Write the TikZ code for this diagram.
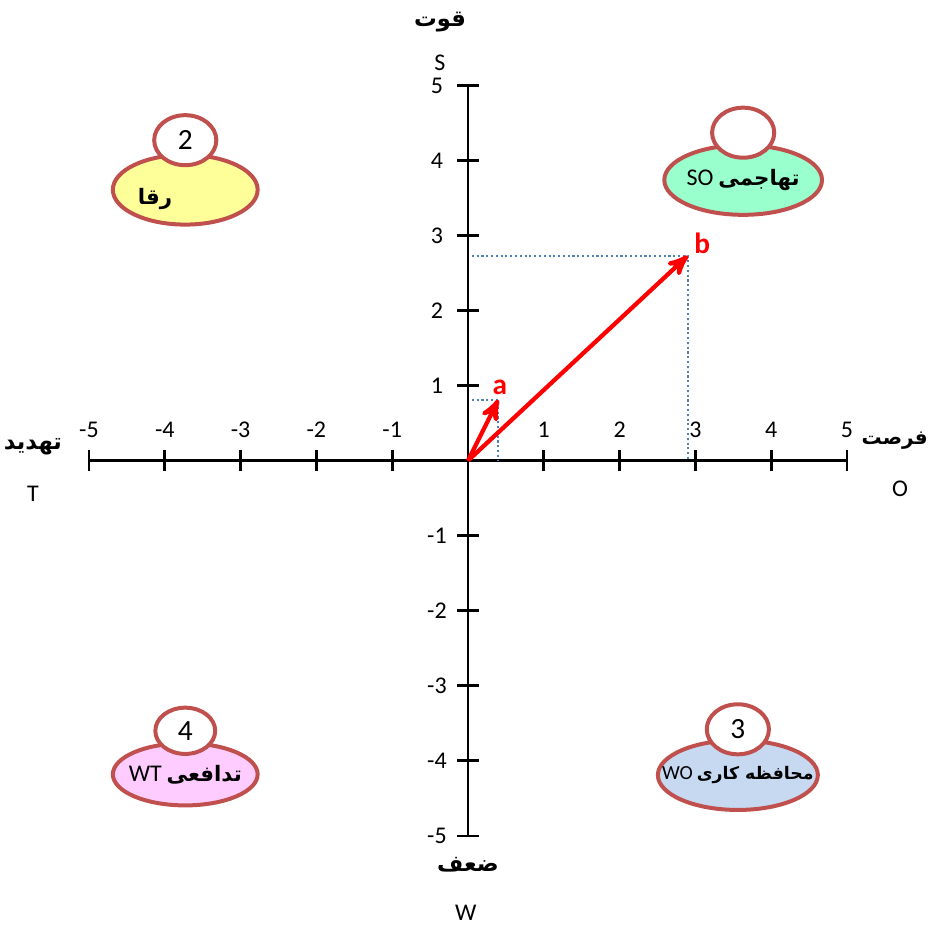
\documentclass[tikz,border=0pt]{standalone}
\usepackage{fontspec}
\setmainfont{Carlito}
\newfontfamily\farsi[Script=Arabic]{DejaVu Sans}
\TeXXeTstate=1
\usepackage{tikz}
\usetikzlibrary{positioning, arrows, calc, shapes.geometric}
\definecolor{rim}{HTML}{C0504D}
\definecolor{guideblue}{HTML}{4F81BD}
\definecolor{zoneyellow}{HTML}{FFFF99}
\definecolor{zonemint}{HTML}{99FFCC}
\definecolor{zonepink}{HTML}{FFCCFF}
\definecolor{zoneblue}{HTML}{C6D9F1}
\newcommand{\fatext}[1]{{\farsi\bfseries\beginR #1\endR}}
\tikzset{
    zone/.style={
        ellipse,
        draw=rim,
        line width=1.5pt,
        inner sep=0pt
    },
    zonetext/.style={
        inner sep=0pt,
        font=\fontsize{8}{10}\selectfont
    },
    badge/.style={
        ellipse,
        draw=rim,
        fill=white,
        line width=1.5pt,
        inner sep=0pt,
        minimum width=0.82cm,
        minimum height=0.66cm,
        font=\fontsize{11}{13}\selectfont
    },
    axis/.style={
        line width=1pt
    },
    vec/.style={
        ->,
        >=stealth',
        line width=1.6pt,
        red
    },
    guide/.style={
        densely dotted,
        line width=0.8pt,
        guideblue
    },
    ticklabel/.style={
        font=\fontsize{9}{11}\selectfont,
        inner sep=0pt
    },
    heading/.style={
        font=\fontsize{8.5}{10}\selectfont,
        inner sep=0pt
    }
}

\begin{document}
\begin{tikzpicture}[x=1cm, y=0.99cm]
    \useasboundingbox (-6.174,-6.178) rectangle (6.108,6.138);
    % axes
    \coordinate (O) at (0,0);
    \coordinate (xmin) at (-5,0);
    \coordinate (xmax) at (5,0);
    \coordinate (ymin) at (0,-5);
    \coordinate (ymax) at (0,5);
    \draw[axis] (xmin) -- (xmax);
    \draw[axis] (ymin) -- (ymax);
    \foreach \k in {-5,-4,-3,-2,-1,1,2,3,4,5} {
        \draw[axis] (\k,-0.14) -- (\k,0.14);
        \draw[axis] (-0.14,\k) -- (0.14,\k);
        \node[ticklabel] (xl\k) at (\k,0.41) {\k};
        \node[ticklabel] (yl\k) at (-0.41,\k) {\k};
    }
    % axis titles
    \node[heading] (strength) at (-0.37,5.85) {\fatext{قوت}};
    \node[ticklabel] (S) at (-0.37,5.3) {S};
    \node[heading] (weakness) at (0,-5.39) {\fatext{ضعف}};
    \node[ticklabel] (W) at (-0.03,-6.03) {W};
    \node[heading] (threat) at (-5.74,0.19) {\fatext{تهدید}};
    \node[ticklabel] (T) at (-5.74,-0.44) {T};
    \node[heading, anchor=east, font=\fontsize{7.5}{9}\selectfont] (opportunity) at (6.07,0.27) {\fatext{فرصت}};
    \node[ticklabel] (Olbl) at (5.70,-0.37) {O};
    % strategy zones
    \node[zone, fill=zoneyellow, minimum width=1.91cm, minimum height=0.92cm] (st) at (-3.73,3.61) {};
    \node[badge] (stnum) at (-3.73,4.27) {2};
    \node[zonetext] (sttext) at (-4.13,3.49) {\fatext{رقا}};
    \node[zone, fill=zonemint, minimum width=2.08cm, minimum height=0.92cm] (so) at (3.63,3.74) {};
    \node[badge] (sonum) at (3.63,4.37) {};
    \node[zonetext] (sotext) at (so) {{\fontsize{9}{11}\selectfont SO} \fatext{تهاجمی}};
    \node[zone, fill=zonepink, minimum width=1.91cm, minimum height=0.82cm] (wt) at (-3.73,-4.18) {};
    \node[badge, minimum width=0.79cm, minimum height=0.61cm] (wtnum) at (-3.73,-3.60) {4};
    \node[zonetext] (wttext) at (wt) {{\fontsize{9}{11}\selectfont WT} \fatext{تدافعی}};
    \node[zone, fill=zoneblue, minimum width=2.11cm, minimum height=0.92cm] (wo) at (3.56,-4.19) {};
    \node[badge] (wonum) at (3.56,-3.58) {3};
    \node[zonetext, font=\fontsize{6.5}{8}\selectfont] (wotext) at (wo) {{\fontsize{7.5}{9}\selectfont WO} \fatext{محافظه کاری}};
    % vectors
    \coordinate (a) at (0.40,0.81);
    \coordinate (b) at (2.90,2.73);
    \draw[guide] ($(O |- a)+(0.05,0)$) -| (a |- O);
    \draw[guide] ($(O |- b)+(0.05,0)$) -| (b |- O);
    \draw[vec] (O) -- (a);
    \draw[vec] (O) -- (b);
    \node[text=red, inner sep=0pt, font=\fontsize{11}{13}\selectfont\bfseries] (alabel) at (0.42,0.97) {a};
    \node[text=red, inner sep=0pt, font=\fontsize{11}{13}\selectfont\bfseries] (blabel) at (3.09,2.89) {b};
\end{tikzpicture}
\end{document}
